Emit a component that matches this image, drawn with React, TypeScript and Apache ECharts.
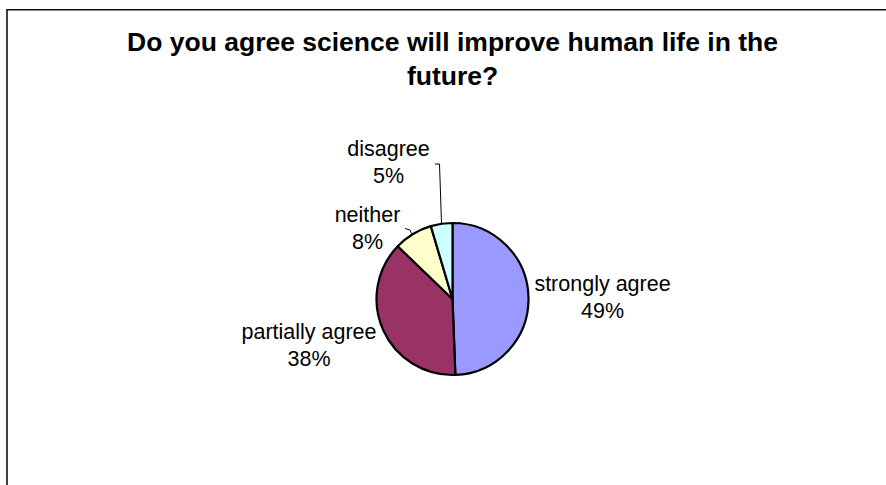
import React, { useEffect, useRef } from "react";
import * as echarts from "echarts";

const TITLE = "Do you agree science will improve human life in the\nfuture?";
const categories = ["strongly agree", "partially agree", "neither", "disagree"];
const values = [49.4, 37.8, 8.2, 4.6];
const colors = ["#9999FF", "#993366", "#FFFFCC", "#CCFFFF"];

// label anchor (center of text block) per slice
const labelPos: [number, number][] = [
  [602.5, 297],
  [309, 345],
  [367.5, 228],
  [388.5, 162],
];
const leaderLines: ([number, number][] | null)[] = [
  null,
  null,
  [[411.5, 233.5], [410, 230], [405, 228.5]],
  [[441.5, 223], [439.5, 164], [435, 164]],
];

const FONT = 'Arial, "Liberation Sans", sans-serif';

export default function App() {
  const ref = useRef<HTMLDivElement>(null);
  useEffect(() => {
    if (!ref.current) return;
    const chart = echarts.init(ref.current, null, { renderer: "svg" });
    chart.setOption({
      animation: false,
      backgroundColor: "#fff",
      graphic: [
        {
          type: "rect",
          shape: { x: 7, y: 9.7, width: 1000, height: 1000 },
          style: { fill: "none", stroke: "#111", lineWidth: 1.6 },
          silent: true,
        },
      ],
      title: {
        text: TITLE,
        left: 452.5,
        top: 25,
        padding: 0,
        textAlign: "center",
        textStyle: {
          fontFamily: FONT,
          fontSize: 26.5,
          fontWeight: "bold",
          color: "#000",
          lineHeight: 34,
        },
      },
      series: [
        {
          type: "pie",
          center: [452.5, 299],
          radius: 76,
          startAngle: 90,
          clockwise: true,
          percentPrecision: 0,
          avoidLabelOverlap: false,
          itemStyle: { borderColor: "#000", borderWidth: 2.2 },
          emphasis: { disabled: true },
          label: {
            show: true,
            position: "outside",
            formatter: "{b}\n{d}%",
            fontFamily: FONT,
            fontSize: 21.5,
            lineHeight: 27,
            color: "#000",
            align: "center",
          },
          labelLine: {
            show: false,
            smooth: false,
            lineStyle: { color: "#000", width: 1 },
          },
          labelLayout: (params: any) => {
            const i = params.dataIndex;
            const out: any = {
              x: labelPos[i][0],
              y: labelPos[i][1],
              align: "center",
              verticalAlign: "middle",
            };
            if (leaderLines[i]) out.labelLinePoints = leaderLines[i];
            return out;
          },
          data: categories.map((name, i) => ({
            name,
            value: values[i],
            itemStyle: { color: colors[i] },
            labelLine: { show: leaderLines[i] !== null },
          })),
        },
      ],
    });
    return () => chart.dispose();
  }, []);
  return (
    <div
      ref={ref}
      style={{ position: "fixed", left: 0, top: 0, width: 886, height: 485 }}
    />
  );
}
